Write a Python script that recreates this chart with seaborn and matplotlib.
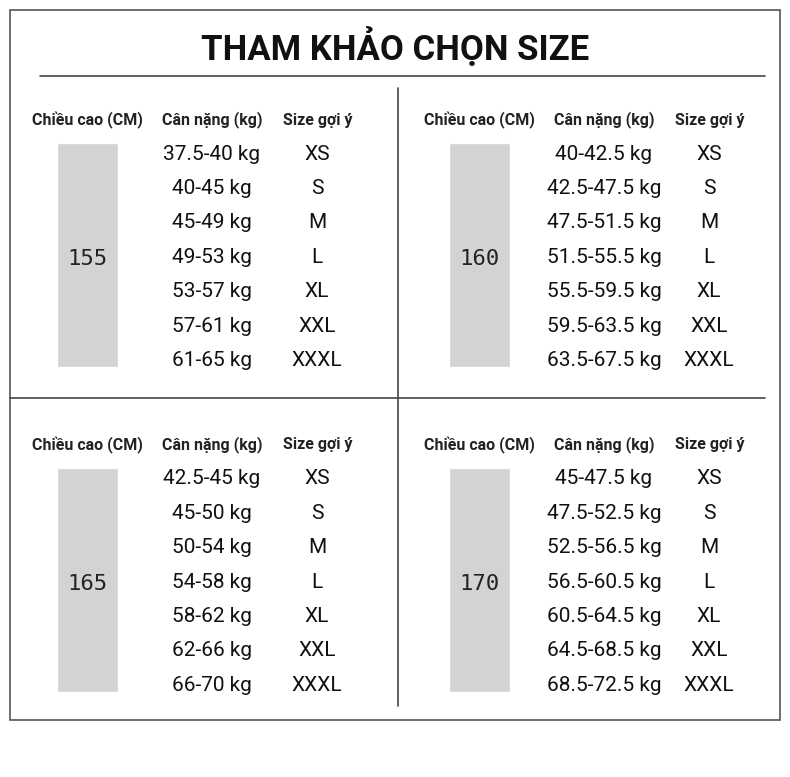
import matplotlib
matplotlib.use("Agg")
import matplotlib.pyplot as plt
import seaborn as sns
from matplotlib.patches import Rectangle

sns.set_theme(style="white")
plt.rcParams['font.family'] = ['Roboto', 'DejaVu Sans']

title = "THAM KHẢO CHỌN SIZE"
headers = ["Chiều cao (CM)", "Cân nặng (kg)", "Size gợi ý"]
heights = ["155", "160", "165", "170"]
sizes = ["XS", "S", "M", "L", "XL", "XXL", "XXXL"]
weights_155 = ["37.5-40 kg", "40-45 kg", "45-49 kg", "49-53 kg", "53-57 kg", "57-61 kg", "61-65 kg"]
weights_160 = ["40-42.5 kg", "42.5-47.5 kg", "47.5-51.5 kg", "51.5-55.5 kg", "55.5-59.5 kg", "59.5-63.5 kg", "63.5-67.5 kg"]
weights_165 = ["42.5-45 kg", "45-50 kg", "50-54 kg", "54-58 kg", "58-62 kg", "62-66 kg", "66-70 kg"]
weights_170 = ["45-47.5 kg", "47.5-52.5 kg", "52.5-56.5 kg", "56.5-60.5 kg", "60.5-64.5 kg", "64.5-68.5 kg", "68.5-72.5 kg"]
weights = [weights_155, weights_160, weights_165, weights_170]

fig = plt.figure(figsize=(7.9, 7.77), dpi=100)
ax = fig.add_axes([0, 0, 1, 1])
ax.set_xlim(0, 790)
ax.set_ylim(777, 0)
ax.axis("off")

ax.add_patch(Rectangle((10, 10), 770, 710, fill=False, ec="#555555", lw=1.2))
ax.text(395, 47, title, ha="center", va="center", fontsize=25, fontweight="bold", color="#111111")
ax.plot([40, 765], [76, 76], color="#444444", lw=1.2)
ax.plot([398, 398], [88, 706], color="#444444", lw=1.2)
ax.plot([10, 765], [398, 398], color="#444444", lw=1.2)

origins = [(0, 0), (392, 0), (0, 325), (392, 325)]
step = 34.4
for k, (ox, oy) in enumerate(origins):
    hx = [87, 212, 318]
    for j, h in enumerate(headers):
        ax.text(ox + hx[j], oy + 120, h, ha="center", va="center", fontsize=11.5,
                fontweight="bold", color="#222222")
    ax.bar(ox + 87.5, 224, bottom=oy + 143, width=61, color="#d3d3d3")
    ax.text(ox + 87.5, oy + 259, heights[k], ha="center", va="center", fontsize=16,
            family="DejaVu Sans Mono", color="#222222")
    for i, (w, s) in enumerate(zip(weights[k], sizes)):
        y = oy + 154 + i * step
        ax.text(ox + 212, y, w, ha="center", va="center", fontsize=15, color="#111111")
        ax.text(ox + 317, y, s, ha="center", va="center", fontsize=15, color="#111111")

fig.savefig("out.png", dpi=100, facecolor="white")
